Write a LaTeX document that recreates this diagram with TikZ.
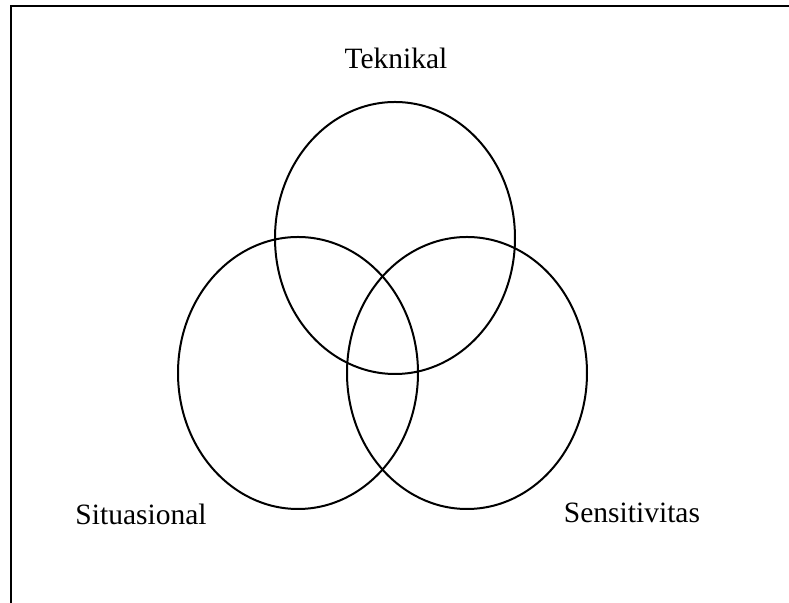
\documentclass[tikz,border=0pt]{standalone}
\usepackage{fontspec}
\setmainfont{Liberation Serif}
\usetikzlibrary{shapes.geometric}

\begin{document}
\begin{tikzpicture}[
  x=0.5pt,y=-0.5pt,
  set/.style={draw,ellipse,line width=1pt,inner sep=0pt,
    minimum width=120pt,minimum height=136pt},
  lbl/.style={anchor=base,inner sep=0pt,font=\fontsize{14.75}{18}\selectfont}]
\useasboundingbox (0,0) rectangle (789,603);
\draw[line width=1pt] (11,603) -- (11,6) -- (789,6);
\node[set] (tek) at (395,238) {};
\node[set] (sit) at (298,373) {};
\node[set] (sen) at (467,373) {};
\node[lbl] (tektext) at (396,69) {Teknikal};
\node[lbl] (sittext) at (141,525) {Situasional};
\node[lbl] (sentext) at (632,523) {Sensitivitas};
\end{tikzpicture}
\end{document}
